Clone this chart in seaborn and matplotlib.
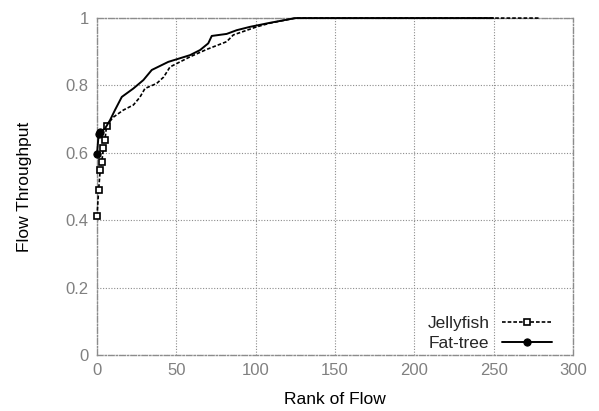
import matplotlib
matplotlib.use("Agg")
import matplotlib.pyplot as plt
import seaborn as sns
import pandas as pd

# Sorted per-flow throughput, indexed by flow rank
jelly_rank = [0, 1, 2, 3, 4, 5, 6, 10.0, 16.6, 22.9, 27.0, 30.2, 37.6, 42.0,
              46.0, 58.6, 69.1, 81.7, 85.9, 100.6, 109.0, 125.0, 278.7]
jelly_tput = [0.412, 0.490, 0.549, 0.574, 0.613, 0.638, 0.680, 0.705, 0.727,
              0.742, 0.765, 0.791, 0.806, 0.825, 0.855, 0.885, 0.907, 0.930,
              0.950, 0.974, 0.985, 1.0, 1.0]

fat_rank = [0, 1, 2, 5.0, 8.2, 11.3, 15.6, 22.9, 29.2, 34.5, 39.7, 44.9,
            58.6, 64.9, 70.1, 72.3, 81.7, 88.0, 96.4, 109.0, 125.0, 249.7]
fat_tput = [0.597, 0.655, 0.662, 0.672, 0.697, 0.727, 0.766, 0.791, 0.816,
            0.846, 0.858, 0.870, 0.890, 0.905, 0.925, 0.947, 0.953, 0.964,
            0.974, 0.986, 1.0, 1.0]

x_ticks = [0, 50, 100, 150, 200, 250, 300]
y_ticks = [0, 0.2, 0.4, 0.6, 0.8, 1.0]
y_tick_labels = ["0", "0.2", "0.4", "0.6", "0.8", "1"]

sns.set_style("white")
plt.rcParams["font.family"] = ["Liberation Sans", "DejaVu Sans"]

fig = plt.figure(figsize=(5.99, 4.11), dpi=100)
ax = fig.add_axes([0.162, 0.1363, 0.7946, 0.8197])

jelly = pd.DataFrame({"rank": jelly_rank, "tput": jelly_tput})
fat = pd.DataFrame({"rank": fat_rank, "tput": fat_tput})

sns.lineplot(data=jelly, x="rank", y="tput", ax=ax, color="black",
             linestyle=(0, (2.2, 1.2)), linewidth=1.2, marker="s",
             markersize=4.8, markerfacecolor="white", markeredgecolor="black",
             markeredgewidth=1.2, markevery=list(range(7)), label="Jellyfish",
             sort=False, clip_on=False, zorder=3)
sns.lineplot(data=fat, x="rank", y="tput", ax=ax, color="black",
             linestyle="-", linewidth=1.4, marker="o", markersize=5.2,
             markerfacecolor="black", markeredgecolor="black",
             markevery=[0, 1, 2], label="Fat-tree", sort=False,
             clip_on=False, zorder=4)

ax.set_xlim(0, 300)
ax.set_ylim(0, 1)
ax.set_xticks(x_ticks)
ax.set_yticks(y_ticks)
ax.set_yticklabels(y_tick_labels)

grid_color = "#8c8c8c"
ax.grid(True, color=grid_color, linestyle=(0, (1, 1.5)), linewidth=0.8)
ax.set_axisbelow(True)
for spine in ax.spines.values():
    spine.set_visible(True)
    spine.set_color(grid_color)
    spine.set_linestyle((0, (4, 1.5, 1, 1.5)))
    spine.set_linewidth(1.0)

ax.tick_params(axis="both", direction="in", length=4, color=grid_color,
               labelcolor="#808080", labelsize=12, pad=6)
ax.set_xlabel("Rank of Flow", fontsize=12.5, color="black", labelpad=10)
ax.set_ylabel("Flow Throughput", fontsize=12.5, color="black", labelpad=24)

leg = ax.legend(loc="lower right", frameon=False, markerfirst=False,
                fontsize=12.5, handlelength=2.9, handletextpad=0.7,
                labelspacing=0.3, borderaxespad=0.15,
                bbox_to_anchor=(0.976, -0.018))

fig.savefig("out.png", dpi=100)
